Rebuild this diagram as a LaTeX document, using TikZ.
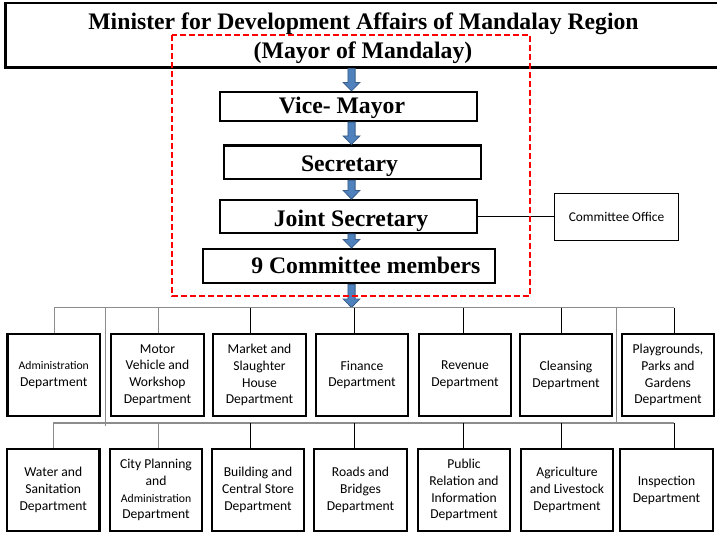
\documentclass[tikz,border=0pt]{standalone}
\usepackage{fontspec}
\setmainfont{Liberation Serif}
\newfontfamily\calibri{Carlito}
\usetikzlibrary{calc}

\definecolor{arrfill}{HTML}{4F81BD}
\definecolor{arrline}{HTML}{385D8A}
\definecolor{busgray}{HTML}{8C8C8C}
\definecolor{dashred}{HTML}{FF0000}

\tikzset{
  framebox/.style={draw=black, line width=2.2pt, inner sep=0pt},
  deptbox/.style={draw=black, line width=2.2pt, minimum width=92.5pt, minimum height=82.5pt,
    inner sep=0pt, align=center, font=\calibri\fontsize{13.6}{16.8}\selectfont},
  titletext/.style={inner sep=0pt, anchor=base, font=\bfseries\fontsize{23.7}{29}\selectfont},
  bus/.style={draw=busgray, line width=1.1pt},
  graydrop/.style={draw=busgray, line width=1pt},
  drop/.style={draw=black, line width=0.9pt},
  blockarr/.style={fill=arrfill, draw=arrline, line width=0.8pt, line join=miter},
  reddash/.style={draw=dashred, line width=2pt, dash pattern=on 6pt off 3pt},
}

% blue block arrow running down the axis x = 351.5 between two anchors
\newcommand\blockarrow[2]{%
  \path (351.5,0 |- #1) coordinate (ba-s) (351.5,0 |- #2) coordinate (ba-e);
  \filldraw[blockarr] ($(ba-s)+(-3.6,0)$) -- ($(ba-e)+(-3.6,-8.5)$)
    -- ($(ba-e)+(-8.3,-8.5)$) -- (ba-e) -- ($(ba-e)+(8.3,-8.5)$)
    -- ($(ba-e)+(3.6,-8.5)$) -- ($(ba-s)+(3.6,0)$) -- cycle;}

\newcommand\admword{{\fontsize{11.7}{16.8}\selectfont Administration}}

\begin{document}
\begin{tikzpicture}[x=1pt,y=-1pt]
\clip (0,0) rectangle (717,533);
\fill[white] (0,0) rectangle (717,533);

% ---- top level
\node[framebox, minimum width=716pt, minimum height=64.8pt] (minister) at (363.5,35.1) {};
\node[titletext] (t1) at (363.5,29.3) {Minister for Development Affairs of Mandalay Region};
\node[titletext] (t2) at (363,58.3) {(Mayor of Mandalay)};

% ---- council chain
\node[framebox, minimum width=257pt, minimum height=29pt] (vice) at (348.5,106.5) {};
\node[titletext] at (342,113.3) {Vice- Mayor};
\node[framebox, minimum width=257pt, minimum height=33.5pt] (secr) at (352.5,162.3) {};
\node[titletext] at (349.5,171.7) {Secretary};
\node[framebox, minimum width=257pt, minimum height=32.7pt] (joint) at (348.5,216.5) {};
\node[titletext] at (351,226.7) {Joint Secretary};
\node[framebox, minimum width=292pt, minimum height=34.3pt] (members) at (349,266.2) {};
\node[titletext] at (365.8,273.3) {9 Committee members};

\node[framebox, line width=1.6pt, minimum width=124pt, minimum height=47pt,
      font=\calibri\fontsize{13.4}{15}\selectfont] (office) at (616.5,217) {Committee Office};
\draw[line width=0.9pt] (joint.east) -- (joint.east -| office.west);

% ---- distribution buses
\coordinate (bus1) at (351.5,307.5);
\coordinate (b1l) at (54,307.5);
\coordinate (b1r) at (674.4,307.5);
\coordinate (b2l) at (53,423);
\coordinate (b2r) at (674.4,423);

\blockarrow{minister.south}{vice.north}
\blockarrow{vice.south}{secr.north}
\blockarrow{secr.south}{joint.north}
\blockarrow{joint.south}{members.north}
\blockarrow{members.south}{bus1}

\draw[reddash] (172,35) rectangle (530,296);

% ---- first row of departments
\node[deptbox] (d1) at (53.75,375) {\admword\\Department};
\node[deptbox] (d2) at (157.5,375) {Motor\\Vehicle and\\Workshop\\Department};
\node[deptbox] (d3) at (259.5,375) {Market and\\Slaughter\\House\\Department};
\node[deptbox] (d4) at (362,375) {Finance\\Department};
\node[deptbox] (d5) at (465,375) {Revenue\\Department};
\node[deptbox] (d6) at (566,375) {Cleansing\\Department};
\node[deptbox] (d7) at (668,375) {Playgrounds,\\Parks and\\Gardens\\Department};

% ---- second row of departments
\node[deptbox] (e1) at (53.25,490) {Water and\\Sanitation\\Department};
\node[deptbox] (e2) at (156,490) {City Planning\\and\\\admword\\Department};
\node[deptbox] (e3) at (258,490) {Building and\\Central Store\\Department};
\node[deptbox] (e4) at (360.5,490) {Roads and\\Bridges\\Department};
\node[deptbox] (e5) at (464,490) {Public\\Relation and\\Information\\Department};
\node[deptbox] (e6) at (567,490) {Agriculture\\and Livestock\\Department};
\node[deptbox] (e7) at (666.5,490) {Inspection\\Department};

% buses and long risers
\draw[bus] (b1l) -- (b1r);
\draw[bus] (b2l) -- (b2r);
\draw[graydrop] (105.5,307.5) -- (105.5,425.5);
\draw[graydrop] (616,307.5) -- (616,424);

% drops to the first row
\draw[graydrop] (b1l) -- (b1l |- d1.north);
\draw[graydrop] (158,307.5) -- (158,0 |- d2.north);
\draw[drop] (250.6,307.5) -- (250.6,0 |- d3.north);
\draw[drop] (354,307.5) -- (354,0 |- d4.north);
\draw[drop] (463.6,307.5) -- (463.6,0 |- d5.north);
\draw[drop] (561.5,307.5) -- (561.5,0 |- d6.north);
\draw[drop] (b1r) -- (b1r |- d7.north);

% drops to the second row
\draw[graydrop] (b2l) -- (b2l |- e1.north);
\draw[graydrop] (158,423) -- (158,0 |- e2.north);
\draw[drop] (250.6,423) -- (250.6,0 |- e3.north);
\draw[drop] (354,423) -- (354,0 |- e4.north);
\draw[drop] (463.6,423) -- (463.6,0 |- e5.north);
\draw[drop] (561.5,423) -- (561.5,0 |- e6.north);
\draw[drop] (b2r) -- (b2r |- e7.north);
\end{tikzpicture}
\end{document}
